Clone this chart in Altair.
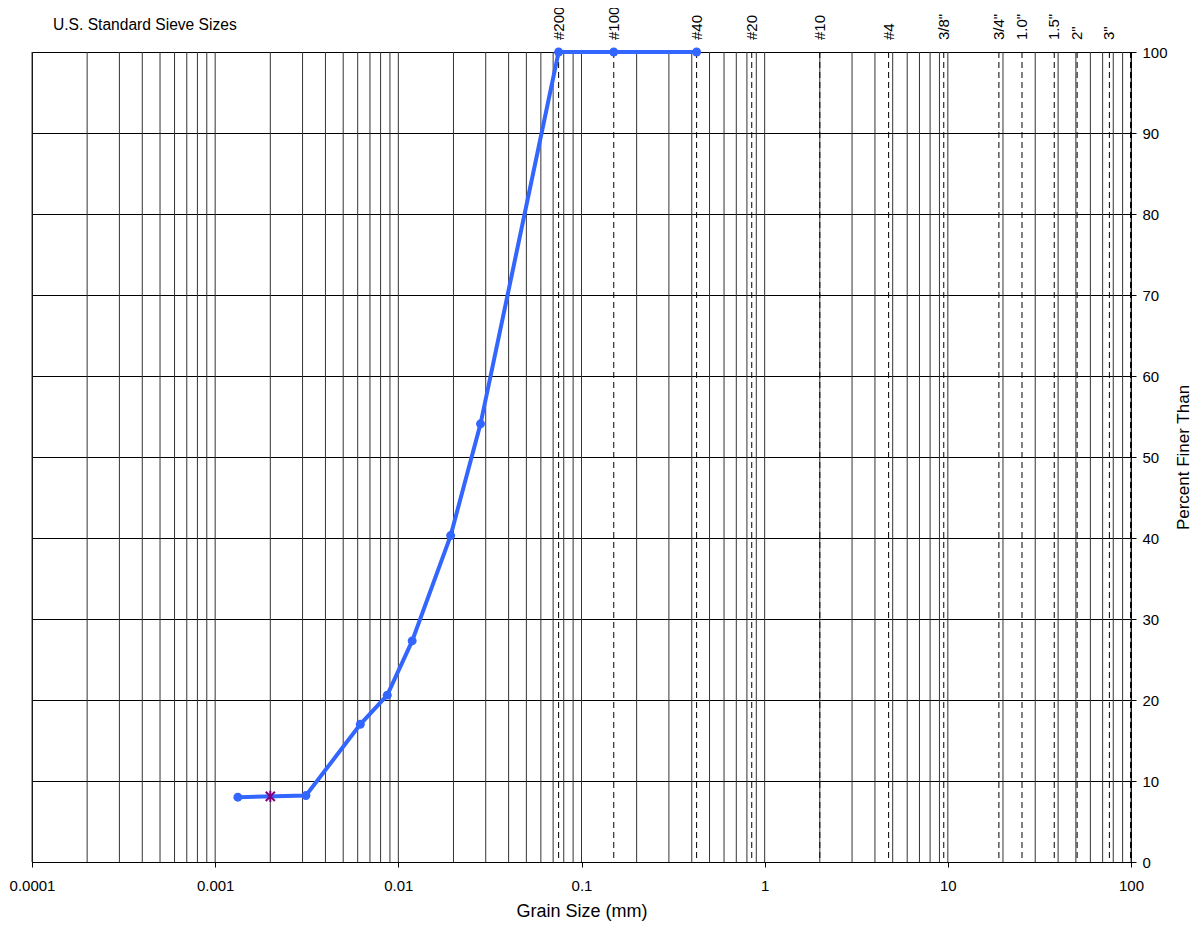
import altair as alt
import pandas as pd

# ---- data ----
grain_mm = [0.00133, 0.00313, 0.0062, 0.0087, 0.0119, 0.0193, 0.0281, 0.075, 0.15, 0.425]
pct_finer = [8.0, 8.2, 17.0, 20.6, 27.3, 40.3, 54.1, 100, 100, 100]

marker_mm = [0.002]
marker_pct = [8.1]

sieve_labels = ["#200", "#100", "#40", "#20", "#10", "#4", '3/8"', '3/4"', '1.0"', '1.5"', '2"', '3"']
sieve_mm = [0.075, 0.15, 0.425, 0.85, 2.0, 4.75, 9.5, 19.0, 25.4, 38.1, 50.8, 76.2]
edge_dashed_mm = [100]

x_tick_values = [0.0001, 0.001, 0.01, 0.1, 1, 10, 100]
y_tick_values = [0, 10, 20, 30, 40, 50, 60, 70, 80, 90, 100]

decades = [0.0001, 0.001, 0.01, 0.1, 1, 10]
mantissas = [1, 2, 3, 4, 5, 6, 7, 8, 9]
grid_mm = [round(d * m, 8) for d in decades for m in mantissas] + [100]

FONT = "Liberation Sans"

curve = pd.DataFrame({"d": grain_mm, "p": pct_finer})
marker = pd.DataFrame({"d": marker_mm, "p": marker_pct})
sieves = pd.DataFrame({"d": sieve_mm, "label": sieve_labels})
edge = pd.DataFrame({"d": edge_dashed_mm})
grid = pd.DataFrame({"d": grid_mm})
title_df = pd.DataFrame({"t": ["U.S. Standard Sieve Sizes"]})

xscale = alt.Scale(type="log", domain=[0.0001, 100], nice=False)
yscale = alt.Scale(domain=[0, 100], nice=False)

x_axis = alt.Axis(
    values=x_tick_values, format="~g", grid=False, orient="bottom",
    tickSize=5, tickColor="black", domainColor="black", labelPadding=11,
    labelFlush=False, labelOverlap=False, labelBound=False,
    labelFontSize=15, labelFont=FONT, labelColor="black",
    title="Grain Size (mm)", titleFont=FONT, titleFontSize=18, titleFontWeight="normal",
    titleColor="black", titleY=54, titleBaseline="alphabetic",
)
y_axis = alt.Axis(
    values=y_tick_values, orient="right", grid=True, gridColor="black", gridWidth=1,
    gridOpacity=1, tickSize=5, tickColor="black", domainColor="black",
    labelPadding=6, labelFontSize=15, labelFont=FONT, labelColor="black",
    labelFlush=False, labelOverlap=False,
    title="Percent Finer Than", titleFont=FONT, titleFontSize=17, titleFontWeight="normal",
    titleColor="black", titleAngle=270, titleX=52, titleY=405,
    titleAlign="center", titleBaseline="middle",
)

X = alt.X("d:Q", scale=xscale, axis=x_axis)
Y = alt.Y("p:Q", scale=yscale, axis=y_axis)

grid_layer = alt.Chart(grid).mark_rule(color="#333333", strokeWidth=1).encode(
    x=X, y=alt.value(0), y2=alt.value(810),
)

sieve_rules = alt.Chart(sieves).mark_rule(color="black", strokeWidth=1, strokeDash=[6, 4]).encode(
    x=X, y=alt.value(0), y2=alt.value(810),
)

edge_rule = alt.Chart(edge).mark_rule(color="black", strokeWidth=2, strokeDash=[6, 4]).encode(
    x=X, y=alt.value(0), y2=alt.value(810),
)

sieve_text = alt.Chart(sieves).mark_text(
    angle=270, align="left", baseline="middle", font=FONT, fontSize=15, color="black"
).encode(
    x=X, y=alt.value(-12), text="label:N",
)

line = alt.Chart(curve).mark_line(color="#3366FF", strokeWidth=4).encode(x=X, y=Y)
pts = alt.Chart(curve).mark_point(filled=True, color="#3366FF", size=80, opacity=1).encode(x=X, y=Y)

star = alt.Chart(marker).mark_point(
    shape="M0,-1L0,1M-0.8,-0.8L0.8,0.8M-0.8,0.8L0.8,-0.8",
    filled=False, color="#800080", strokeWidth=2, size=130, opacity=1,
).encode(x=X, y=Y)

title_text = alt.Chart(title_df).mark_text(
    align="left", baseline="alphabetic", font=FONT, fontSize=15.6, color="black"
).encode(
    x=alt.value(21), y=alt.value(-22), text="t:N",
)

chart = alt.layer(
    grid_layer, sieve_rules, edge_rule, line, pts, star, sieve_text, title_text
).properties(
    width=1099, height=810,
    background="white",
    autosize=alt.AutoSizeParams(type="none"),
    padding={"left": 24, "top": 44, "right": 62, "bottom": 59},
).configure_view(
    stroke="black", strokeWidth=1
)

chart.save("out.html", embed_options={"renderer": "svg", "actions": False})
